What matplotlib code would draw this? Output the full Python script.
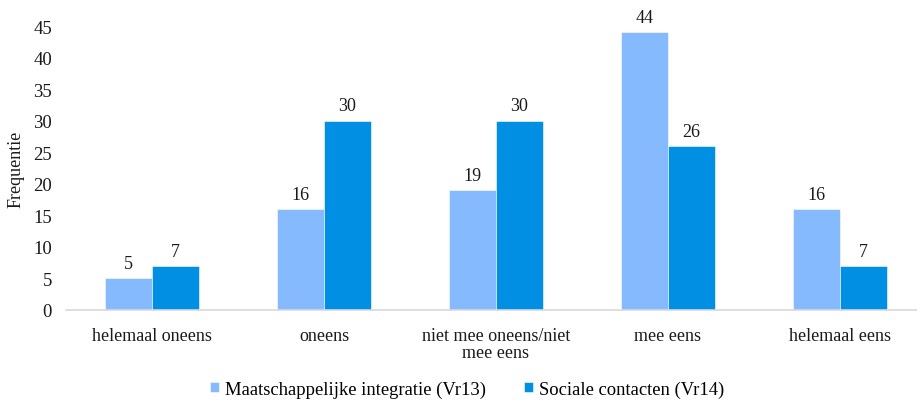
import matplotlib
matplotlib.use("Agg")
import matplotlib.pyplot as plt
import numpy as np

categories = ["helemaal oneens", "oneens", "niet mee oneens/niet\nmee eens", "mee eens", "helemaal eens"]
integratie = [5, 16, 19, 44, 16]
contacten = [7, 30, 30, 26, 7]
series_names = ["Maatschappelijke integratie (Vr13)", "Sociale contacten (Vr14)"]
yticks = [0, 5, 10, 15, 20, 25, 30, 35, 40, 45]

plt.rcParams["font.family"] = ["Liberation Serif", "DejaVu Serif"]

W, H = 917, 402
fig = plt.figure(figsize=(W / 100, H / 100), dpi=100)
left_px, bottom_px, top_px = 66, 311, 27
ax = fig.add_axes([left_px / W, (H - bottom_px) / H, (W - left_px) / W, (bottom_px - top_px) / H])

x = np.arange(len(categories))
bw = 0.273
light = "#85BAFF"
dark = "#008FE3"
txt = "#1a1a1a"
b1 = ax.bar(x - bw / 2, integratie, bw, color=light, edgecolor="white", linewidth=0.4, label=series_names[0])
b2 = ax.bar(x + bw / 2, contacten, bw, color=dark, edgecolor="white", linewidth=0.4, label=series_names[1])

for bars, vals in ((b1, integratie), (b2, contacten)):
    for rect, v in zip(bars, vals):
        ax.annotate(str(v), (rect.get_x() + rect.get_width() / 2, v), xytext=(0, 4.5),
                    textcoords="offset points", ha="center", va="bottom", fontsize=13, color=txt)

ax.set_xlim(-0.5, (W - left_px) / 172 - 0.5)
ax.set_ylim(0, 45)
ax.set_yticks(yticks)
ax.set_xticks(x)
ax.set_xticklabels(categories, fontsize=13, color=txt, linespacing=1.0)
ax.tick_params(axis="both", length=0, labelsize=13.5, colors=txt)
ax.tick_params(axis="x", labelsize=13, pad=12)
ax.tick_params(axis="y", pad=10)
for s in ("top", "right", "left"):
    ax.spines[s].set_visible(False)
ax.spines["bottom"].set_color("#D9D9D9")
ax.spines["bottom"].set_linewidth(1.2)

fig.text(16 / W, (H - 169) / H, "Frequentie", rotation=90, ha="center", va="center", fontsize=13, color=txt)

fig.legend(handles=[b1, b2], labels=series_names, loc="center", bbox_to_anchor=(467 / W, 12 / H),
           ncol=2, frameon=False, fontsize=13.4, handlelength=0.5, handleheight=0.5,
           handletextpad=0.3, columnspacing=2.05)

fig.savefig("out.png", dpi=100)
